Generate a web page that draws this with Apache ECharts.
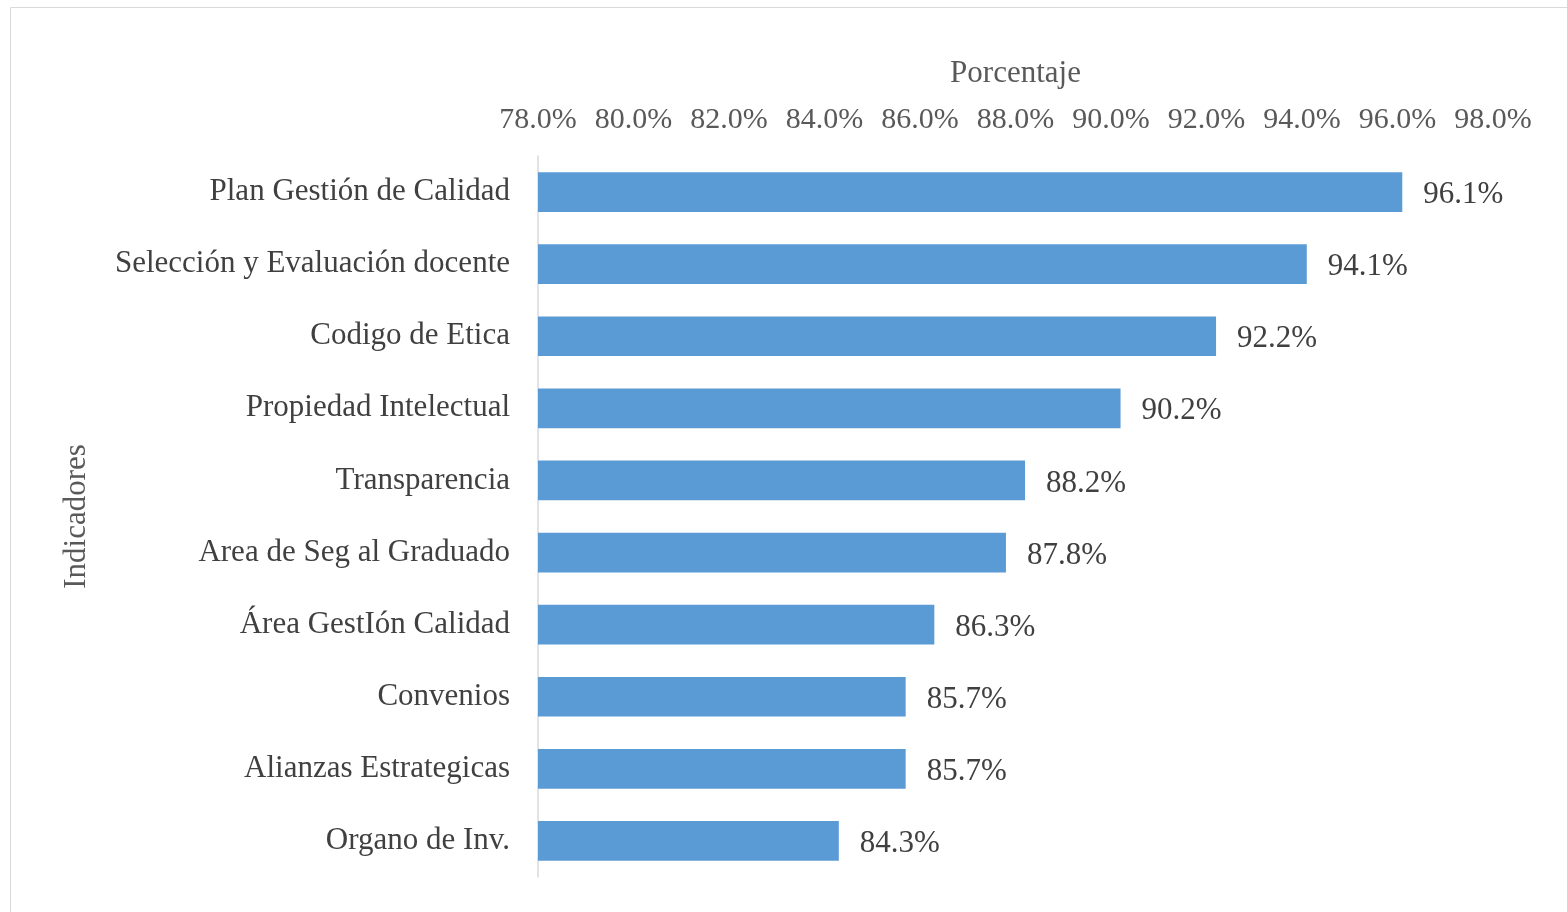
<!DOCTYPE html>
<html>
<head>
<meta charset="utf-8">
<script src="https://cdn.jsdelivr.net/npm/echarts@6/dist/echarts.min.js"></script>
<style>
html,body{margin:0;padding:0;background:#fff;}
#chart{width:1567px;height:912px;}
</style>
</head>
<body>
<div id="chart"></div>
<script>
const categories = ["Plan Gestión de Calidad","Selección y Evaluación docente","Codigo de Etica","Propiedad Intelectual","Transparencia","Area de Seg al Graduado","Área GestIón Calidad","Convenios","Alianzas Estrategicas","Organo de Inv."];
const values = [96.1, 94.1, 92.2, 90.2, 88.2, 87.8, 86.3, 85.7, 85.7, 84.3];
const xMin = 78, xMax = 98, xStep = 2;
const xAxisTitle = "Porcentaje";
const yAxisTitle = "Indicadores";

const font = "'Liberation Serif', 'Times New Roman', serif";
const txt = '#595959';
const chart = echarts.init(document.getElementById('chart'));
chart.setOption({
  animation: false,
  graphic: [{type:'rect', shape:{x:10.5,y:7.5,width:1600,height:1000}, style:{fill:'none',stroke:'#d9d9d9',lineWidth:1}}],
  grid: {left: 538, right: 74, top: 156, bottom: 35, containLabel: false},
  xAxis: {
    type: 'value', position: 'top', min: xMin, max: xMax, interval: xStep,
    name: xAxisTitle, nameLocation: 'middle', nameGap: 67,
    nameTextStyle: {fontFamily: font, fontSize: 31, color: txt},
    axisLine: {show: false}, axisTick: {show: false}, splitLine: {show: false},
    axisLabel: {fontFamily: font, fontSize: 30, color: txt, margin: 21,
      formatter: v => v.toFixed(1) + '%'}
  },
  yAxis: {
    type: 'category', data: categories, inverse: true,
    name: yAxisTitle, nameLocation: 'middle', nameGap: 446, nameRotate: 90,
    nameTextStyle: {fontFamily: font, fontSize: 31, color: txt},
    axisLine: {show: true, lineStyle: {color: '#d9d9d9', width: 1.5}},
    axisTick: {show: false},
    axisLabel: {fontFamily: font, fontSize: 31, color: '#404040', margin: 28},
  },
  series: [{
    type: 'bar', data: values, barWidth: '55%',
    itemStyle: {color: '#5B9BD5'},
    label: {show: true, position: 'right', distance: 21, offset: [0, 3], fontFamily: font, fontSize: 31, color: '#404040',
      formatter: p => p.value.toFixed(1) + '%'}
  }]
});
</script>
</body>
</html>
